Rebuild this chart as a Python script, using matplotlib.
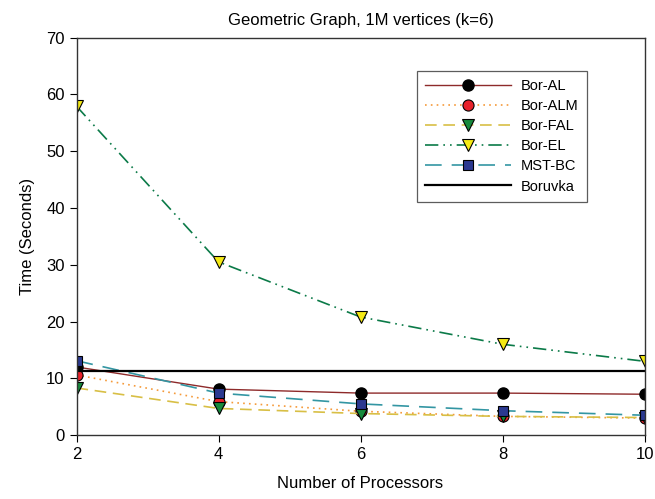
from matplotlib import pyplot as plt

# processor counts and run times (seconds)
procs = [2, 4, 6, 8, 10]
bor_al = [12.0, 8.1, 7.4, 7.4, 7.2]
bor_alm = [10.6, 5.9, 4.2, 3.3, 3.0]
bor_fal = [8.3, 4.7, 3.8, 3.3, 3.1]
bor_el = [57.9, 30.5, 20.8, 16.0, 13.0]
mst_bc = [13.1, 7.4, 5.5, 4.3, 3.5]
boruvka = 11.3

plt.rcParams['font.family'] = ['Liberation Sans', 'DejaVu Sans']

fig = plt.figure(figsize=(6.55, 4.99), dpi=100)
ax = fig.add_axes([0.1168, 0.128, 0.8672, 0.7968])

ax.plot(procs, bor_al, color='#8e2a2a', lw=1.0, marker='o', ms=8,
        mfc='black', mec='black', label='Bor-AL')
ax.plot(procs, bor_alm, color='#f59a3a', lw=1.2, ls=(0, (1, 2.5)), marker='o', ms=8,
        mfc='#e8212a', mec='black', mew=0.8, label='Bor-ALM')
ax.plot(procs, bor_fal, color='#d8bf45', lw=1.2, ls=(0, (7, 4)), marker='v', ms=8,
        mfc='#178a3c', mec='black', mew=0.8, label='Bor-FAL')
ax.plot(procs, bor_el, color='#0b7a48', lw=1.2, ls=(0, (8, 3, 1, 3, 1, 3)), marker='v', ms=8,
        mfc='#f5ea14', mec='black', mew=0.8, label='Bor-EL')
ax.plot(procs, mst_bc, color='#3396a3', lw=1.2, ls=(0, (10, 6)), marker='s', ms=7.5,
        mfc='#2b3990', mec='black', mew=0.8, label='MST-BC')
ax.plot([procs[0], procs[-1]], [boruvka, boruvka], color='black', lw=1.6, label='Boruvka')

ax.set_xlim(2, 10)
ax.set_ylim(0, 70)
ax.set_xticks(procs)
ax.set_yticks(range(0, 71, 10))
ax.tick_params(direction='out', length=5, labelsize=12, top=False, right=False)
for sp in ax.spines.values():
    sp.set_color('#333333')
    sp.set_linewidth(1.0)

ax.set_xlabel('Number of Processors', fontsize=12, labelpad=10)
ax.set_ylabel('Time (Seconds)', fontsize=12, labelpad=8)
ax.set_title('Geometric Graph, 1M vertices (k=6)', fontsize=12, pad=9)

leg = ax.legend(loc='upper left', bbox_to_anchor=(0.599, 0.916), fontsize=10.5,
                frameon=True, fancybox=False, edgecolor='#333333', handlelength=5.9,
                labelspacing=0.42, borderpad=0.55, handletextpad=0.7, borderaxespad=0)
leg.get_frame().set_linewidth(0.9)

fig.savefig('out.png', dpi=100)
